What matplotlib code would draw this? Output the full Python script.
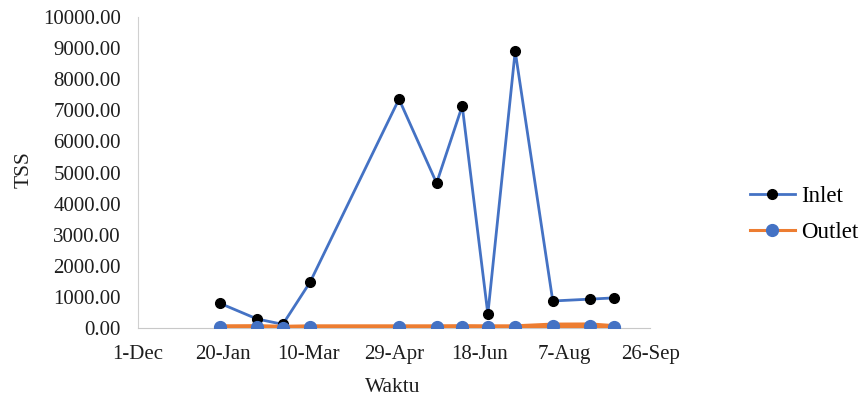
import pandas as pd
import matplotlib.pyplot as plt
import matplotlib.dates as mdates
from matplotlib.lines import Line2D

plt.rcParams['font.family'] = ['Liberation Serif', 'DejaVu Serif']

# sampling dates and TSS values
dates = pd.to_datetime([
    '2020-01-18', '2020-02-09', '2020-02-24', '2020-03-11', '2020-05-02',
    '2020-05-24', '2020-06-08', '2020-06-23', '2020-07-09', '2020-07-31',
    '2020-08-22', '2020-09-05',
])
inlet = [800, 290, 120, 1480, 7360, 4660, 7140, 450, 8900, 870, 930, 970]
outlet = [20, 25, 5, 20, 20, 20, 25, 20, 20, 75, 80, 25]

tick_dates = pd.date_range('2019-12-01', periods=7, freq='50D')

blue = '#4472C4'
orange = '#ED7D31'
txt = '#1e1e1e'

fig = plt.figure(figsize=(8.6, 4.04), dpi=100)
ax = fig.add_axes([0.160, 0.188, 0.596, 0.770])

ax.plot(dates, inlet, color=blue, linewidth=2, marker='o',
        markersize=7, markerfacecolor='black', markeredgecolor='black',
        zorder=2)
ax.plot(dates, outlet, color=orange, linewidth=4.5, marker='o',
        markersize=8.5, markerfacecolor=blue, markeredgecolor=blue,
        zorder=3)

ax.set_xlim(tick_dates[0], tick_dates[-1])
ax.set_ylim(0, 10000)
ax.set_yticks(range(0, 10001, 1000))
ax.set_yticklabels([f'{v:.2f}' for v in range(0, 10001, 1000)])
ax.set_xticks(tick_dates)
ax.xaxis.set_major_formatter(mdates.DateFormatter('%-d-%b'))
ax.tick_params(length=0, labelsize=15, colors=txt)
ax.tick_params(axis='x', pad=12)
ax.tick_params(axis='y', pad=12)

for s in ['top', 'right']:
    ax.spines[s].set_visible(False)
ax.spines['left'].set_color('#d0d0d0')
ax.spines['bottom'].set_color('#c8c8c8')

ax.set_ylabel('TSS', fontsize=15.5, color=txt)
ax.yaxis.set_label_coords(-0.202, 0.508)
ax.set_xlabel('Waktu', fontsize=15.5, color=txt)
ax.xaxis.set_label_coords(0.498, -0.16)

handles = [
    Line2D([], [], color=blue, linewidth=2, marker='o', markersize=7,
           markerfacecolor='black', markeredgecolor='black'),
    Line2D([], [], color=orange, linewidth=2.2, marker='o', markersize=8.5,
           markerfacecolor=blue, markeredgecolor=blue),
]
fig.legend(handles, ['Inlet', 'Outlet'], loc='center left',
           bbox_to_anchor=(0.872, 0.47), frameon=False, fontsize=16.5,
           handlelength=1.95, handletextpad=0.3, labelspacing=0.65,
           borderpad=0, borderaxespad=0)

plt.savefig('out.png', dpi=100)
